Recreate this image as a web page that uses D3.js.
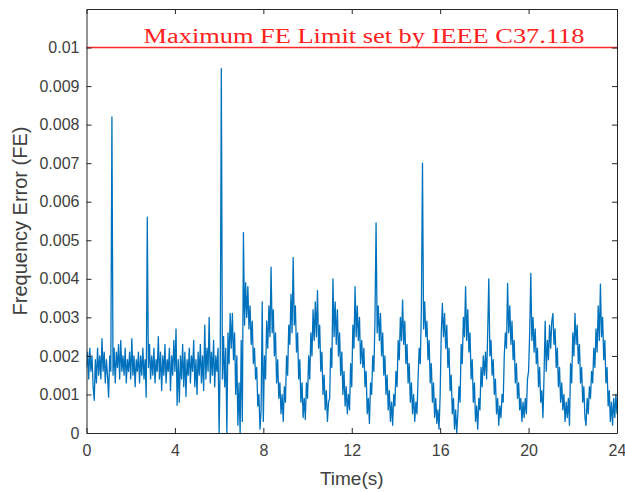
<!DOCTYPE html>
<html>
<head>
<meta charset="utf-8">
<script src="https://cdn.jsdelivr.net/npm/d3@7"></script>
<style>
  body { margin: 0; background: #fff; }
  svg { display: block; }
</style>
</head>
<body>
<div id="chart"></div>
<script>
// frequency error, in units of 1e-3, one sample every 0.05 s
const dt = 0.05
const fe0to4 = [
  1.7, 2.1, 1.4, 2.2, 1.6, 2.0, 1.2, 0.85, 1.9, 1.3, 2.2, 1.5, 2.0, 1.4, 2.45, 1.6, 2.1, 1.3, 1.9, 1.5,
  0.93, 2.0, 1.6, 8.2, 1.5, 2.2, 1.3, 2.1, 1.7, 2.3, 1.4, 2.4, 1.6, 2.0, 1.5, 2.2, 1.3, 1.9, 1.6, 2.1,
  1.4, 2.45, 1.5, 2.0, 1.2, 1.9, 1.6, 2.1, 1.3, 2.0, 1.5, 2.2, 1.4, 1.9, 0.93, 5.6, 1.7, 2.3, 1.4, 2.0,
  1.5, 2.2, 1.3, 1.9, 1.6, 2.5, 1.4, 2.1, 1.1, 2.0, 1.5, 2.3, 1.3, 1.9, 1.6, 2.2, 1.1, 2.0, 1.5, 2.4
]
const fe4to8 = [
  1.6, 2.7, 0.72, 1.9, 0.8, 2.0, 1.4, 2.3, 1.2, 2.1, 0.95, 1.9, 1.5, 2.2, 1.3, 2.0, 1.6, 2.4, 1.2, 1.9,
  1.0, 2.1, 1.5, 2.3, 1.3, 2.0, 1.1, 2.8, 1.4, 2.2, 1.6, 3.0, 1.3, 2.1, 1.5, 2.4, 1.2, 2.0, 1.6, 2.2,
  0.0, 1.9, 9.45, 1.4, 2.5, 1.2, 2.2, 0.0, 2.6, 1.8, 3.1, 2.2, 3.1, 1.9, 2.6, 1.0, 2.0, 0.2, 1.3, 0.0,
  2.4, 0.3, 5.2, 2.8, 3.9, 3.0, 3.8, 2.7, 3.3, 2.3, 2.9, 1.8, 2.2, 1.4, 1.7, 0.7, 1.0, 0.1, 0.6, 3.4
]
const fe8to12 = [
  0.3, 2.0, 1.4, 2.9, 2.2, 3.3, 2.5, 4.3, 2.6, 3.2, 2.0, 2.6, 1.3, 1.9, 0.9, 1.3, 0.5, 1.0, 0.3, 1.2,
  0.8, 2.0, 1.5, 2.8, 2.3, 3.6, 2.6, 4.55, 2.8, 3.3, 2.1, 2.6, 1.4, 1.9, 0.8, 1.3, 0.4, 0.9, 0.35, 1.3,
  0.9, 2.0, 1.4, 2.6, 2.0, 3.2, 2.4, 3.4, 2.5, 3.7, 2.2, 2.8, 1.6, 2.1, 1.0, 1.5, 0.6, 1.1, 0.3, 0.8,
  0.9, 2.2, 1.7, 4.0, 2.5, 3.4, 2.3, 3.2, 2.0, 2.6, 1.5, 2.1, 1.0, 1.6, 0.7, 1.2, 0.5, 1.0, 0.6, 1.8
]
const fe12to16 = [
  1.2, 2.8, 2.2, 3.8, 2.5, 3.3, 2.4, 3.0, 1.8, 2.4, 1.7, 2.2, 1.2, 1.6, 0.5, 0.9, 0.25, 1.3, 1.0, 2.0,
  1.6, 2.9, 5.45, 2.6, 3.3, 2.4, 3.1, 2.0, 2.6, 1.5, 2.0, 1.0, 1.5, 0.6, 1.1, 0.3, 0.8, 0.2, 1.0, 0.7,
  1.6, 1.2, 2.4, 1.9, 3.0, 2.4, 3.45, 2.3, 2.9, 1.8, 2.3, 1.3, 1.8, 0.8, 1.3, 0.5, 1.0, 0.3, 0.8, 0.5,
  1.4, 2.2, 1.8, 3.2, 7.0, 2.7, 3.4, 2.5, 2.9, 1.9, 2.4, 1.3, 1.8, 0.8, 1.3, 0.4, 0.9, 0.25, 0.6, 0.1
]
const fe16to20 = [
  1.0, 2.6, 3.36, 2.5, 3.1, 2.2, 2.8, 1.7, 2.2, 1.1, 1.5, 0.5, 0.9, 0.1, 0.6, 0.0, 0.5, 1.2, 0.8, 2.3,
  1.8, 3.0, 2.5, 3.8, 2.4, 3.2, 2.1, 2.6, 1.4, 1.9, 0.8, 1.3, 0.3, 0.7, 0.1, 0.9, 0.6, 1.7, 1.2, 2.0,
  1.5, 2.1, 1.4, 2.6, 4.0, 2.0, 2.4, 1.5, 1.9, 1.0, 1.4, 0.5, 0.9, 0.2, 0.7, 0.4, 1.0, 0.8, 2.0, 2.6,
  2.2, 3.88, 2.6, 3.3, 2.3, 2.9, 1.9, 2.4, 1.3, 1.8, 0.9, 1.3, 0.6, 0.9, 0.3, 0.8, 0.4, 0.9, 0.5, 1.4
]
const fe20to24 = [
  1.6, 2.6, 4.14, 2.4, 3.0, 2.1, 2.7, 1.8, 2.2, 1.2, 1.7, 0.8, 1.1, 0.4, 1.5, 2.9, 1.6, 2.4, 1.9, 2.8,
  2.2, 2.9, 3.1, 2.3, 2.7, 1.7, 2.2, 1.2, 1.7, 0.8, 1.3, 0.6, 1.0, 0.3, 0.8, 0.4, 0.9, 0.2, 1.8, 1.3,
  2.6, 2.0, 3.1, 2.3, 2.8, 1.8, 2.3, 1.3, 1.7, 0.8, 1.2, 0.4, 0.2, 0.9, 0.5, 1.2, 0.9, 1.6, 1.3, 2.2,
  1.7, 2.7, 2.1, 3.3, 2.4, 3.86, 2.5, 3.0, 1.9, 2.4, 1.3, 1.7, 0.7, 1.1, 0.3, 0.8, 0.2, 0.9, 0.4, 1.0,
  0.5
]

const feLimit = 0.01
const limitLabel = "Maximum FE Limit set by IEEE C37.118"
const xTicks = [0, 4, 8, 12, 16, 20, 24]
const yTicks = [0, 0.001, 0.002, 0.003, 0.004, 0.005, 0.006, 0.007, 0.008, 0.009, 0.01]
const yTickLabels = ["0", "0.001", "0.002", "0.003", "0.004", "0.005", "0.006", "0.007", "0.008", "0.009", "0.01"]
const xTitle = "Time(s)"
const yTitle = "Frequency Error (FE)"

const series = [].concat(fe0to4, fe4to8, fe8to12, fe12to16, fe16to20, fe20to24)
  .map((v, i) => ({ t: i * dt, fe: v * 1e-3 }))

const width = 625
const height = 492
const margin = { top: 9, left: 86.5, bottom: 59, right: 8 }
const iwidth = width - margin.left - margin.right
const iheight = height - margin.top - margin.bottom
const axisColor = "#262626"

const svg = d3.select("#chart").append("svg")
  .attr("width", width)
  .attr("height", height)
  .style("font-family", "'Liberation Sans', Arial, sans-serif")

const g = svg.append("g").attr("transform", `translate(${margin.left},${margin.top})`)

const x = d3.scaleLinear().domain([0, 24]).range([0, iwidth])
const y = d3.scaleLinear().domain([0, 0.011]).range([iheight, 0])

g.append("clipPath").attr("id", "plotclip")
  .append("rect").attr("width", iwidth).attr("height", iheight)

const line = d3.line().x(d => x(d.t)).y(d => y(d.fe))

g.append("path")
  .datum(series)
  .attr("clip-path", "url(#plotclip)")
  .attr("fill", "none")
  .attr("stroke", "#0072BD")
  .attr("stroke-width", 1.3)
  .attr("stroke-linejoin", "round")
  .attr("d", line)

// limit line
g.append("line")
  .attr("x1", 0).attr("x2", iwidth)
  .attr("y1", y(feLimit)).attr("y2", y(feLimit))
  .attr("stroke", "#ff2a2a")
  .attr("stroke-width", 1.5)

g.append("text")
  .attr("x", x(2.58))
  .attr("y", y(feLimit) - 5)
  .attr("fill", "#ff2020")
  .attr("font-family", "'Liberation Serif', 'Times New Roman', serif")
  .attr("font-size", 20)
  .attr("textLength", 441)
  .attr("lengthAdjust", "spacingAndGlyphs")
  .text(limitLabel)

// axes, MATLAB style box with inward ticks
function styleAxis(sel) {
  sel.select(".domain").attr("stroke", axisColor)
  sel.selectAll(".tick line").attr("stroke", axisColor)
  sel.selectAll(".tick text").attr("fill", "#404040").attr("font-size", 16)
}

g.append("g")
  .attr("transform", `translate(0,${iheight})`)
  .call(d3.axisBottom(x).tickValues(xTicks).tickSize(-5).tickSizeOuter(0).tickPadding(12))
  .call(styleAxis)

g.append("g")
  .call(d3.axisTop(x).tickValues(xTicks).tickSize(-5).tickSizeOuter(0).tickFormat(""))
  .call(styleAxis)

g.append("g")
  .call(d3.axisLeft(y).tickValues(yTicks).tickSize(-5).tickSizeOuter(0).tickPadding(7)
    .tickFormat((d, i) => yTickLabels[i]))
  .call(styleAxis)

g.append("g")
  .attr("transform", `translate(${iwidth},0)`)
  .call(d3.axisRight(y).tickValues(yTicks).tickSize(-5).tickSizeOuter(0).tickFormat(""))
  .call(styleAxis)

svg.selectAll(".domain").attr("stroke-width", 1)

svg.append("text")
  .attr("x", margin.left + iwidth / 2)
  .attr("y", 485)
  .attr("text-anchor", "middle")
  .attr("fill", "#404040")
  .attr("font-size", 19)
  .text(xTitle)

svg.append("text")
  .attr("transform", `translate(27,${margin.top + iheight / 2}) rotate(-90)`)
  .attr("text-anchor", "middle")
  .attr("fill", "#404040")
  .attr("font-size", 20)
  .text(yTitle)
</script>
</body>
</html>
